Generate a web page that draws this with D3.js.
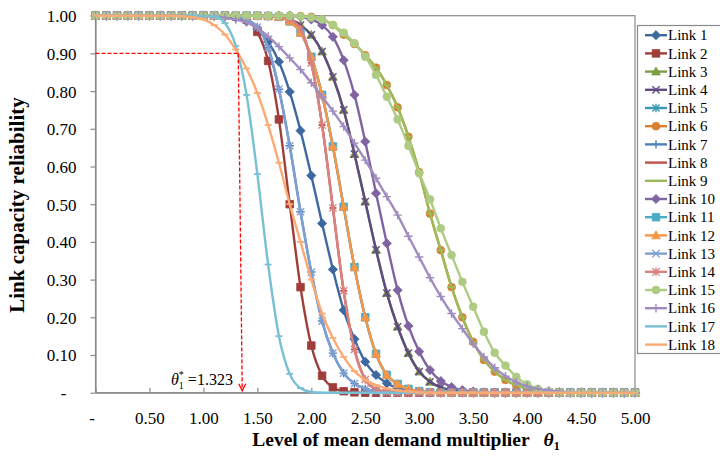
<!DOCTYPE html>
<html><head><meta charset="utf-8">
<script src="https://cdn.jsdelivr.net/npm/d3@7"></script>
<style>body{margin:0;background:#fff} text{font-family:"Liberation Serif","Times New Roman",serif;fill:#000}</style>
</head><body>
<svg id="c" width="720" height="460"></svg>
<script>
// ---------- DATA ----------
const thetas = [0,0.1,0.2,0.3,0.4,0.5,0.6,0.7,0.8,0.9,1.0,1.1,1.2,1.3,1.4,1.5,1.6,1.7,1.8,1.9,2.0,2.1,2.2,2.3,2.4,2.5,2.6,2.7,2.8,2.9,3.0,3.1,3.2,3.3,3.4,3.5,3.6,3.7,3.8,3.9,4.0,4.1,4.2,4.3,4.4,4.5,4.6,4.7,4.8,4.9,5.0];
const xTickValues = [0,0.5,1,1.5,2,2.5,3,3.5,4,4.5,5];
const xTickLabels = ["-","0.50","1.00","1.50","2.00","2.50","3.00","3.50","4.00","4.50","5.00"];
const yTickValues = [0,0.1,0.2,0.3,0.4,0.5,0.6,0.7,0.8,0.9,1];
const yTickLabels = ["-","0.10","0.20","0.30","0.40","0.50","0.60","0.70","0.80","0.90","1.00"];

const link1 = [1,1,1,1,1,1,1,1,1,1, 1,1,0.999,0.995,0.985,0.965,0.931,0.878,0.798,0.695, 0.576,0.449,0.327,0.219,0.142,0.082,0.047,0.025,0.012,0.005, 0.002,0,0,0,0,0,0,0,0,0, 0,0,0,0,0,0,0,0,0,0, 0];
const link2 = [1,1,1,1,1,1,1,1,1,1, 1,1,1,0.998,0.99,0.957,0.88,0.725,0.5,0.28, 0.125,0.045,0.014,0.004,0.001,0,0,0,0,0, 0,0,0,0,0,0,0,0,0,0, 0,0,0,0,0,0,0,0,0,0, 0];
const link3 = [1,1,1,1,1,1,1,1,1,1, 1,1,1,1,1,1,0.999,0.997,0.99,0.975, 0.949,0.905,0.838,0.75,0.633,0.507,0.379,0.264,0.175,0.105, 0.056,0.029,0.014,0.006,0.002,0.001,0,0,0,0, 0,0,0,0,0,0,0,0,0,0, 0];
const link4 = [1,1,1,1,1,1,1,1,1,1, 1,1,1,1,1,1,0.999,0.997,0.99,0.975, 0.949,0.905,0.838,0.75,0.633,0.507,0.379,0.264,0.175,0.105, 0.056,0.029,0.014,0.006,0.002,0.001,0,0,0,0, 0,0,0,0,0,0,0,0,0,0, 0];
const link5 = [1,1,1,1,1,1,1,1,1,1, 1,1,1,1,1,1,0.999,0.997,0.985,0.955, 0.891,0.79,0.653,0.493,0.333,0.2,0.103,0.047,0.023,0.01, 0.004,0.001,0,0,0,0,0,0,0,0, 0,0,0,0,0,0,0,0,0,0, 0];
const link6 = [1,1,1,1,1,1,1,1,1,1, 1,1,1,1,1,1,1,1,1,0.999, 0.997,0.99,0.975,0.95,0.925,0.895,0.862,0.816,0.757,0.679, 0.585,0.475,0.378,0.28,0.2,0.135,0.087,0.056,0.034,0.02, 0.01,0.005,0.002,0.001,0,0,0,0,0,0, 0];
const link7 = [1,1,1,1,1,1,1,1,1,1, 1,1,1,0.998,0.99,0.97,0.915,0.805,0.655,0.48, 0.32,0.19,0.105,0.052,0.024,0.01,0.004,0.001,0,0, 0,0,0,0,0,0,0,0,0,0, 0,0,0,0,0,0,0,0,0,0, 0];
const link8 = [1,1,1,1,1,1,1,1,1,1, 1,1,1,1,1,1,1,0.997,0.99,0.965, 0.875,0.71,0.49,0.27,0.115,0.035,0.009,0.002,0,0, 0,0,0,0,0,0,0,0,0,0, 0,0,0,0,0,0,0,0,0,0, 0];
const link9 = [1,1,1,1,1,1,1,1,1,1, 1,1,1,1,1,1,1,1,1,0.999, 0.997,0.99,0.975,0.95,0.925,0.895,0.862,0.816,0.757,0.679, 0.585,0.475,0.378,0.28,0.2,0.135,0.087,0.056,0.034,0.02, 0.01,0.005,0.002,0.001,0,0,0,0,0,0, 0];
const link10 = [1,1,1,1,1,1,1,1,1,1, 1,1,1,1,1,1,1,1,1,0.997, 0.99,0.975,0.944,0.882,0.79,0.666,0.529,0.396,0.272,0.177, 0.109,0.06,0.031,0.015,0.007,0.003,0.001,0,0,0, 0,0,0,0,0,0,0,0,0,0, 0];
const link11 = [1,1,1,1,1,1,1,1,1,1, 1,1,1,1,1,1,0.999,0.997,0.985,0.955, 0.891,0.79,0.653,0.493,0.333,0.2,0.103,0.047,0.023,0.01, 0.004,0.001,0,0,0,0,0,0,0,0, 0,0,0,0,0,0,0,0,0,0, 0];
const link12 = [1,1,1,1,1,1,1,1,1,1, 1,1,1,1,1,1,0.999,0.997,0.985,0.955, 0.891,0.79,0.653,0.493,0.333,0.2,0.103,0.047,0.023,0.01, 0.004,0.001,0,0,0,0,0,0,0,0, 0,0,0,0,0,0,0,0,0,0, 0];
const link13 = [1,1,1,1,1,1,1,1,1,1, 1,1,1,0.998,0.99,0.97,0.915,0.805,0.655,0.48, 0.32,0.19,0.105,0.052,0.024,0.01,0.004,0.001,0,0, 0,0,0,0,0,0,0,0,0,0, 0,0,0,0,0,0,0,0,0,0, 0];
const link14 = [1,1,1,1,1,1,1,1,1,1, 1,1,1,1,1,1,1,0.997,0.99,0.965, 0.875,0.71,0.49,0.27,0.115,0.035,0.009,0.002,0,0, 0,0,0,0,0,0,0,0,0,0, 0,0,0,0,0,0,0,0,0,0, 0];
const link15 = [1,1,1,1,1,1,1,1,1,1, 1,1,1,1,1,1,1,1,1,0.998, 0.995,0.99,0.975,0.955,0.927,0.891,0.843,0.785,0.725,0.655, 0.582,0.513,0.436,0.365,0.294,0.228,0.162,0.106,0.072,0.042, 0.022,0.01,0.004,0.001,0,0,0,0,0,0, 0];
const link16 = [1,1,1,1,1,1,1,1,1,0.999, 0.999,0.998,0.995,0.99,0.982,0.968,0.945,0.918,0.888,0.857, 0.822,0.785,0.747,0.706,0.662,0.617,0.569,0.52,0.471,0.415, 0.36,0.305,0.255,0.21,0.17,0.13,0.095,0.066,0.044,0.028, 0.017,0.01,0.006,0.003,0.001,0,0,0,0,0, 0];
const link17 = [1,1,1,1,1,1,1,1,1,1, 0.999,0.998,0.98,0.92,0.79,0.58,0.34,0.15,0.05,0.012, 0.002,0,0,0,0,0,0,0,0,0, 0,0,0,0,0,0,0,0,0,0, 0,0,0,0,0,0,0,0,0,0, 0];
const link18 = [1,1,1,1,1,1,1,1,0.999,0.996, 0.99,0.975,0.95,0.91,0.86,0.795,0.71,0.61,0.5,0.4, 0.3,0.21,0.145,0.095,0.057,0.034,0.02,0.011,0.006,0.003, 0.001,0,0,0,0,0,0,0,0,0, 0,0,0,0,0,0,0,0,0,0, 0];

const seriesNames = ["Link 1","Link 2","Link 3","Link 4","Link 5","Link 6","Link 7","Link 8","Link 9","Link 10","Link 11","Link 12","Link 13","Link 14","Link 15","Link 16","Link 17","Link 18"];
const seriesValues = [link1,link2,link3,link4,link5,link6,link7,link8,link9,link10,link11,link12,link13,link14,link15,link16,link17,link18];
const seriesColors = ["#3D68A0","#A03D3A","#7F9C45","#5F4B82","#3B9AB2","#DA7F32","#4F81BD","#C0504D","#9BBB59","#8064A2","#4BACC6","#F79646","#7F9FD3","#D9827F","#AECB83","#A08DC0","#78C0D4","#FAAB74"];
const seriesMarkers = ["diamond","square","triangle","x","star","circle","plus","dash","dash","diamond","square","triangle","x","star","circle","plus","dash","dash"];

const thetaStar = 1.323, rStar = 0.9;

// ---------- CHART ----------
const FONT = '"Liberation Serif","Times New Roman",serif';
const svg = d3.select("#c");
const x = d3.scaleLinear().domain([0,5]).range([95.5,635]);
const y = d3.scaleLinear().domain([0,1]).range([392.7,15.7]);
const axisColor = "#8a8a8a";

svg.append("rect").attr("x",x(0)).attr("y",y(1)).attr("width",x(5)-x(0)).attr("height",y(0)-y(1))
  .attr("fill","none").attr("stroke",axisColor).attr("stroke-width",1.2);

const gy = svg.append("g").attr("transform",`translate(${x(0)},0)`)
  .call(d3.axisLeft(y).tickValues(yTickValues).tickFormat((d,i)=>yTickLabels[i]).tickSize(5).tickSizeOuter(0));
gy.attr("font-family",FONT).attr("font-size",17);
gy.selectAll("path,line").attr("stroke",axisColor).attr("stroke-width",1.2);
gy.selectAll("text").attr("x",-19).attr("dy","0.35em").attr("font-family",FONT).style("font-size","17px").attr("text-anchor","end");
gy.selectAll(".tick text").filter((d,i)=>i===0).attr("x",-29);

const gx = svg.append("g").attr("transform",`translate(0,${y(0)})`)
  .call(d3.axisBottom(x).tickValues(xTickValues).tickFormat((d,i)=>xTickLabels[i]).tickSize(-5).tickSizeOuter(0));
gx.attr("font-family",FONT).attr("font-size",17);
gx.selectAll("path,line").attr("stroke",axisColor).attr("stroke-width",1.2);
gx.selectAll("text").attr("y",31).attr("dy",0).attr("font-family",FONT).style("font-size","17px");
gx.selectAll(".tick text").filter((d,i)=>i===0).attr("dx",-4);

// markers
function markerPath(type){
  switch(type){
    case "diamond": return "M0,-4.6L4.6,0L0,4.6L-4.6,0Z";
    case "square": return "M-3.8,-3.8H3.8V3.8H-3.8Z";
    case "triangle": return "M0,-4.6L4.4,3.4H-4.4Z";
    case "x": return "M-3.6,-3.6L3.6,3.6M-3.6,3.6L3.6,-3.6";
    case "star": return "M-3.6,-3.6L3.6,3.6M-3.6,3.6L3.6,-3.6M0,-4.2V4.2";
    case "plus": return "M-4.2,0H4.2M0,-4.2V4.2";
    case "dash": return "M-3.5,0H3.5";
  }
  return null;
}
function drawMarker(g, type, color, cx, cy){
  if(type==="circle"){
    g.append("circle").attr("cx",cx).attr("cy",cy).attr("r",3.9).attr("fill",color).attr("stroke",color).attr("stroke-width",0.8);
    return;
  }
  const filled = ["diamond","square","triangle"].includes(type);
  g.append("path").attr("d",markerPath(type)).attr("transform",`translate(${cx},${cy})`)
    .attr("fill",filled?color:"none").attr("stroke",color)
    .attr("stroke-width",filled?0.8:(type==="dash"?1.8:1.4));
}

const line = d3.line().x((d,i)=>x(thetas[i])).y(d=>y(d)).curve(d3.curveMonotoneX);
const plot = svg.append("g");
seriesValues.forEach((vals,s)=>{
  const g = plot.append("g");
  g.append("path").datum(vals).attr("d",line).attr("fill","none")
    .attr("stroke",seriesColors[s]).attr("stroke-width",2.4).attr("stroke-linejoin","round");
  vals.forEach((v,i)=>drawMarker(g, seriesMarkers[s], seriesColors[s], x(thetas[i]), y(v)));
});

// annotation
const red = "#FF0000";
const ax = x(thetaStar), ay = y(rStar);
svg.append("line").attr("x1",x(0)).attr("y1",ay).attr("x2",ax).attr("y2",ay)
  .attr("stroke",red).attr("stroke-width",1.3).attr("stroke-dasharray","4,2");
const bx = ax+4, by = y(0)-2;
svg.append("line").attr("x1",ax).attr("y1",ay).attr("x2",bx).attr("y2",by)
  .attr("stroke",red).attr("stroke-width",1.3).attr("stroke-dasharray","4,2");
svg.append("path").attr("d",`M${bx-3.5},${by-7}L${bx},${by}L${bx+3.5},${by-7}`)
  .attr("fill","none").attr("stroke",red).attr("stroke-width",1.3);

const ann = svg.append("text").attr("x",171).attr("y",385).attr("font-family",FONT).style("font-size","16px");
ann.append("tspan").text("θ").style("font-style","italic");
ann.append("tspan").text("1").style("font-size","10px").attr("dy",4);
ann.append("tspan").text("*").style("font-size","10px").attr("dx",-5).attr("dy",-11);
ann.append("tspan").text(" =1.323").attr("dy",7);

// axis titles
svg.append("text").attr("transform","translate(24,205) rotate(-90)").attr("text-anchor","middle")
  .attr("font-family",FONT).style("font-size","21px").style("font-weight","bold").text("Link capacity reliability");
const xt = svg.append("text").attr("x",406).attr("y",446).attr("text-anchor","middle")
  .attr("font-family",FONT).style("font-size","19.5px").style("font-weight","bold");
xt.append("tspan").text("Level of mean demand multiplier");
xt.append("tspan").text("θ").style("font-style","italic").attr("dx",14);
xt.append("tspan").text("1").style("font-size","12px").attr("dy",4);

// legend
const lg = svg.append("g");
lg.append("rect").attr("x",637.5).attr("y",25.5).attr("width",90).attr("height",328)
  .attr("fill","#fff").attr("stroke",axisColor).attr("stroke-width",1.2);
seriesNames.forEach((name,s)=>{
  const cy = 35.2 + s*18.2;
  const g = lg.append("g");
  g.append("line").attr("x1",645).attr("x2",667).attr("y1",cy).attr("y2",cy)
    .attr("stroke",seriesColors[s]).attr("stroke-width",2.4);
  if(seriesMarkers[s]!=="dash") drawMarker(g, seriesMarkers[s], seriesColors[s], 656, cy);
  g.append("text").attr("x",668).attr("y",cy).attr("dy","0.35em").attr("font-family",FONT).style("font-size","15px").text(name);
});
</script>
</body></html>
